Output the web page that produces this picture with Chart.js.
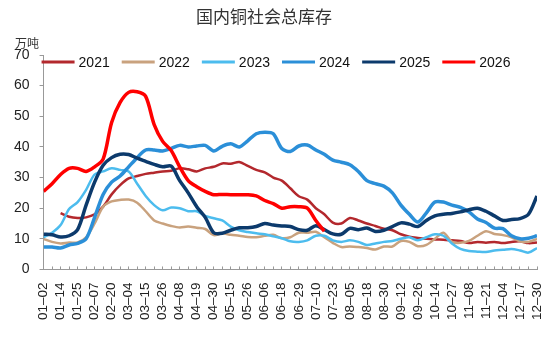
<!DOCTYPE html>
<html>
<head>
<meta charset="utf-8">
<script src="https://cdn.jsdelivr.net/npm/chart.js@4"></script>
<style>
  html, body { margin: 0; padding: 0; background: #fff; }
</style>
</head>
<body>
<canvas id="stockChart" width="550" height="340"></canvas>
<script>

// ---------------- DATA ----------------

const dateLabels = ["01–02","01–14","01–25","02–07","02–20","03–04","03–15","03–26","04–08","04–19",
                    "04–30","05–15","05–26","06–06","06–18","06–29","07–10","07–23","08–05","08–18",
                    "08–30","09–12","09–26","10–14","10–27","11–08","11–21","12–04","12–17","12–30"];

// one value every half label step (0, 0.5, 1 ... 29)
const s2021 = [null, null, 18.4, 17.2, 16.8, 17, 18, 20.5, 24.5, 27.5, 29.7, 30.5, 31.2, 31.6, 32, 32.2, 33, 32.7, 32, 33,
               33.5, 34.6, 34.5, 35.1, 33.8, 32.5, 31.7, 30, 29, 26.5, 23.9, 22.8, 20, 18, 15.3, 15, 16.8, 16, 15, 14.2,
               13.3, 12.8, 11.5, 10.7, 10.3, 10, 9.8, 9.7, 9.5, 9.3, 8.6, 9, 8.7, 9, 8.6, 9, 9.2, 8.6, 8.8];
const s2022 = [10, 9, 8.5, 8.8, 8.8, 10.5, 15, 20.5, 22.2, 22.7, 22.8, 21.8, 19, 16, 15, 14.2, 13.7, 14, 13.6, 13.2,
               11.2, 11.8, 11.3, 11, 10.6, 10.5, 11, 11.3, 10.2, 10.5, 12, 12, 12.3, 10.5, 8.7, 7.3, 7.5, 7.3, 7, 6.5,
               7.5, 7.5, 9.3, 9, 7.6, 8, 10, 12, 9, 8.7, 9.3, 11, 12.5, 11.6, 11.2, 10.5, 9.2, 9, 10];
const s2023 = [10.5, 12, 14.5, 19.7, 22, 26, 31, 32, 33, 32.5, 32, 28, 24, 21, 19.3, 20.2, 20, 19, 19, 17.5,
               16.7, 16, 14, 12.8, 12.2, 11.8, 11.5, 10.8, 10.2, 9.2, 9, 9.5, 11, 11, 9.5, 9, 9.5, 9, 8, 8.5,
               9, 9.3, 10, 10.5, 9.5, 10.5, 11.5, 11, 8.5, 6.7, 6, 5.8, 5.7, 6.2, 6.4, 6.7, 6.2, 5.5, 7];
const s2024 = [7.3, 7.3, 7, 8, 8.5, 10, 17, 24.5, 28.5, 30.5, 33.5, 36.5, 39, 39, 38.7, 39.5, 40.5, 40, 40.3, 40.5,
               38.7, 40.2, 41, 40, 42, 44.3, 44.8, 44.3, 39.5, 38.5, 40.3, 40.6, 39, 37.6, 35.7, 35, 34.2, 32, 29, 28,
               27.2, 25, 21, 18, 15.5, 18.5, 22, 22, 21, 20.3, 18.8, 16.5, 15.3, 13.5, 13.3, 11, 10, 10.2, 11];
const s2025 = [11.5, 11.3, 10.6, 11, 13, 21, 28.5, 34, 36.5, 37.6, 37.5, 36.3, 35.3, 34.3, 33.5, 33.7, 29, 25, 20.5, 17,
               12, 11.8, 12.8, 13.6, 13.6, 14, 15, 14.5, 14.2, 14, 13, 12.8, 14.3, 13, 11.6, 11.5, 13.4, 13, 13.5, 12.4,
               12.8, 14, 15.2, 14.8, 14, 16, 17.5, 18, 18.3, 18.8, 19.5, 20, 19, 17.5, 16, 16.3, 16.6, 18, 24];
const s2026 = [25.5, 28, 31, 33, 33, 32, 33.5, 36, 48, 54.5, 57.8, 58, 56.5, 47.3, 41.8, 38.8, 33.5, 29, 27, 25.5,
               24.4, 24.5, 24.4, 24.4, 24.4, 24, 22.5, 21.5, 20, 20.5, 20.5, 20, 16, 12.5];

const seriesNames = ["2021", "2022", "2023", "2024", "2025", "2026"];
const seriesValues = [s2021, s2022, s2023, s2024, s2025, s2026];
const seriesColors = ["#b3282d", "#c9a27e", "#4cbcee", "#2b8fd8", "#0c3a6c", "#ff0000"];
const seriesWidths = [2.5, 2.5, 2.5, 3.5, 3.5, 3.5];

const toPoints = vals => vals.map((v, i) => ({ x: i / 2, y: v }));

const FONT = "Arial, 'Liberation Sans', sans-serif";
const CJK = "'Noto Sans CJK SC', sans-serif";


// ---------------- TITLE, UNIT + LEGEND ----------------

const overlayPlugin = {
    id: "overlay",
    afterDraw(chart){
        const ctx = chart.ctx;
        const area = chart.chartArea;

        ctx.save();
        ctx.textBaseline = "middle";

        // title
        ctx.fillStyle = "#333";
        ctx.font = "17px " + CJK;
        ctx.textAlign = "center";
        ctx.fillText("国内铜社会总库存", 264, 17);

        // unit
        ctx.font = "12px " + CJK;
        ctx.fillText("万吨", 27, 43);

        // legend inside the plot
        ctx.font = "14px " + FONT;
        ctx.textAlign = "left";
        let x = area.left - 2;
        const y = area.top + 7;

        chart.data.datasets.forEach(ds => {
            ctx.strokeStyle = ds.borderColor;
            ctx.lineWidth = 3;
            ctx.beginPath();
            ctx.moveTo(x, y);
            ctx.lineTo(x + 33, y);
            ctx.stroke();
            ctx.fillStyle = "#111";
            ctx.fillText(ds.label, x + 37, y + 1);
            x += 37 + ctx.measureText(ds.label).width + 12;
        });

        ctx.restore();
    }
};


// ---------------- CHART ----------------

new Chart(document.getElementById("stockChart"), {

    type: "line",

    data: {
        datasets: seriesNames.map((name, i) => ({
            label: name,
            data: toPoints(seriesValues[i]),
            borderColor: seriesColors[i],
            backgroundColor: seriesColors[i],
            borderWidth: seriesWidths[i],
            order: seriesNames.length - i,
            pointRadius: 0,
            tension: 0.3,
            fill: false
        }))
    },

    options: {
        responsive: false,
        animation: false,
        layout: { padding: { left: 4, right: 0, top: 55, bottom: 4 } },
        plugins: {
            legend: { display: false },
            tooltip: { enabled: false },
            title: { display: false }
        },
        scales: {
            x: {
                type: "linear",
                min: 0,
                max: 29,
                grid: { drawOnChartArea: false, tickLength: -3, color: "#999" },
                border: { color: "#999" },
                afterFit: scale => { scale.paddingRight = 13; },
                ticks: {
                    stepSize: 0.5,
                    autoSkip: false,
                    maxRotation: 90,
                    minRotation: 90,
                    padding: 16,
                    color: "#222",
                    font: { family: FONT, size: 13.5 },
                    callback: v => Number.isInteger(v) ? dateLabels[v] : ""
                }
            },
            y: {
                min: 0,
                max: 70,
                grid: { drawOnChartArea: false, tickLength: 4, color: "#999" },
                border: { color: "#999" },
                ticks: {
                    stepSize: 10,
                    padding: 10,
                    color: "#222",
                    font: { family: FONT, size: 14 }
                }
            }
        }
    },

    plugins: [overlayPlugin]

});

</script>
</body>
</html>
